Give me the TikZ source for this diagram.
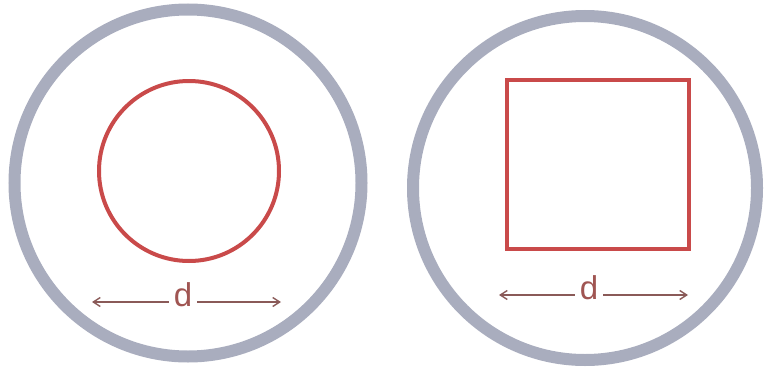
\documentclass[tikz,border=0pt]{standalone}
\usepackage{fontspec}
\setsansfont{Liberation Sans}
\usepackage{tikz}
\usetikzlibrary{arrows.meta}
\definecolor{ringgray}{HTML}{A9ADBE}
\definecolor{shapered}{HTML}{C94A4A}
\definecolor{arrowbrown}{HTML}{8A5A58}
\definecolor{labelred}{HTML}{A05552}

\begin{document}
\begin{tikzpicture}[
  x=1pt,y=-1pt,
  ring/.style={draw=ringgray,line width=12pt,circle,inner sep=0pt},
  hole/.style={draw=shapered,line width=4pt,inner sep=0pt},
  lbl/.style={font=\sffamily\fontsize{33}{36}\selectfont,text=labelred,inner xsep=5pt,inner ysep=0pt,text height=24pt,text depth=16pt},
  arr/.style={-{Straight Barb[length=7pt,width=9pt]},line width=1.4pt,arrowbrown}
]
\useasboundingbox (0,0) rectangle (765,372);
% left: round hole
\node[ring,minimum size=347pt] (wallL) at (188,183) {};
\node[hole,circle,minimum size=180pt] (holeL) at (189,171) {};
\node[lbl] (dL) at (183,302) {d};
\coordinate (aL) at (92,302);
\coordinate (bL) at (281,302);
\draw[arr] (dL) -- (aL);
\draw[arr] (dL) -- (bL);
% right: square hole
\node[ring,minimum size=344pt] (wallR) at (585,188) {};
\node[hole,rectangle,minimum width=182pt,minimum height=169pt] (holeR) at (598,164) {};
\node[lbl] (dR) at (589,295) {d};
\coordinate (aR) at (499,295);
\coordinate (bR) at (688,295);
\draw[arr] (dR) -- (aR);
\draw[arr] (dR) -- (bR);
\end{tikzpicture}
\end{document}
